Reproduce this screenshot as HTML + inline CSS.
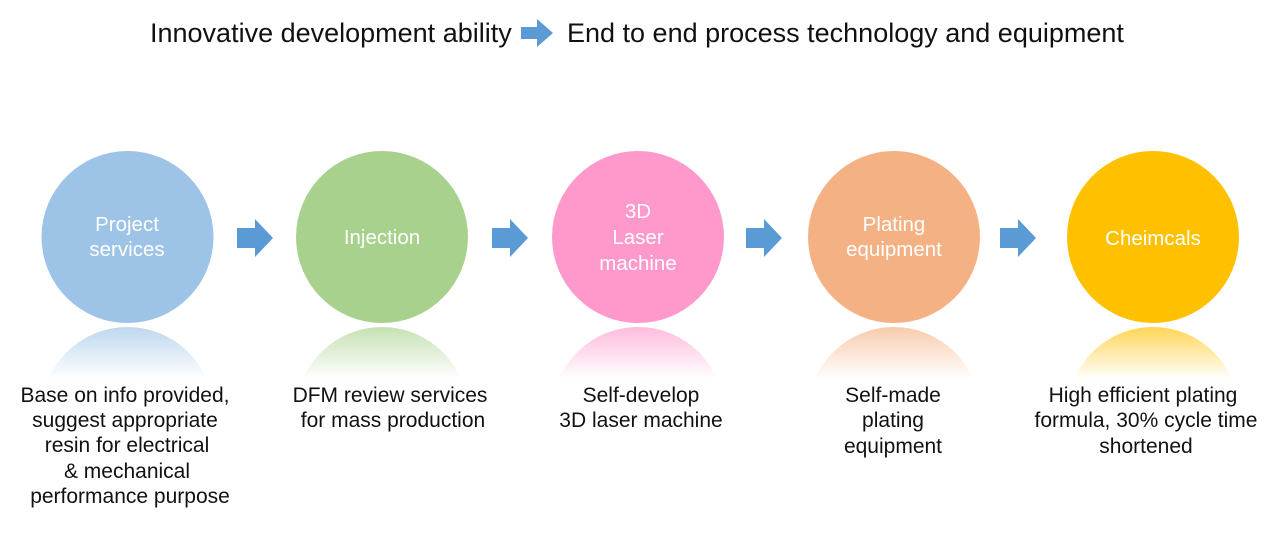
<!DOCTYPE html>
<html><head><meta charset="utf-8"><style>
html,body{margin:0;padding:0;background:#fff;width:1285px;height:538px;overflow:hidden}
svg{display:block}
text{font-family:"Liberation Sans",Arial,sans-serif}
</style></head><body>
<svg width="1285" height="538" viewBox="0 0 1285 538" xmlns="http://www.w3.org/2000/svg">
<defs>
<linearGradient id="fade" x1="0" y1="0" x2="0" y2="1">
<stop offset="0" stop-color="#fff" stop-opacity="0.1"/>
<stop offset="1" stop-color="#fff" stop-opacity="1"/>
</linearGradient>
<clipPath id="rc"><rect x="0" y="326" width="1285" height="52"/></clipPath>
</defs>
<text x="150" y="42" font-size="27" fill="#111">Innovative development ability</text>
<polygon points="521,27 537,27 537,19 553,33 537,47 537,39 521,39" fill="#5b9bd5"/>
<text x="567" y="42" font-size="27" fill="#111">End to end process technology and equipment</text>

<g font-size="20.5" fill="#fff" text-anchor="middle">
<circle cx="127.5" cy="237" r="86" fill="#9dc3e6"/>
<text x="127" y="231">Project</text><text x="127" y="256">services</text>
<circle cx="382" cy="237" r="86" fill="#a9d18e"/>
<text x="382" y="244">Injection</text>
<circle cx="638" cy="237" r="86" fill="#ff99cc"/>
<text x="638" y="218">3D</text><text x="638" y="244">Laser</text><text x="638" y="270">machine</text>
<circle cx="894" cy="237" r="86" fill="#f4b183"/>
<text x="894" y="231">Plating</text><text x="894" y="256">equipment</text>
<circle cx="1153" cy="237" r="86" fill="#ffc000"/>
<text x="1153" y="245">Cheimcals</text>
</g>

<g clip-path="url(#rc)" opacity="0.75">
<circle cx="127.5" cy="413" r="86" fill="#9dc3e6"/>
<circle cx="382" cy="413" r="86" fill="#a9d18e"/>
<circle cx="638" cy="413" r="86" fill="#ff99cc"/>
<circle cx="894" cy="413" r="86" fill="#f4b183"/>
<circle cx="1153" cy="413" r="86" fill="#ffc000"/>
</g>
<rect x="0" y="326" width="1285" height="53" fill="url(#fade)"/>

<g fill="#5b9bd5">
<polygon points="237,228 255,228 255,219 273,238 255,257 255,248 237,248"/>
<polygon points="492,228 510,228 510,219 528,238 510,257 510,248 492,248"/>
<polygon points="746,228 764,228 764,219 782,238 764,257 764,248 746,248"/>
<polygon points="1000,228 1018,228 1018,219 1036,238 1018,257 1018,248 1000,248"/>
</g>

<g font-size="21" fill="#111" text-anchor="middle">
<text x="125" y="402">Base on info provided,</text>
<text x="125" y="427">suggest appropriate</text>
<text x="127" y="452">resin for electrical</text>
<text x="127" y="478">&amp; mechanical</text>
<text x="130" y="503">performance purpose</text>
<text x="390" y="402">DFM review services</text>
<text x="393" y="427">for mass production</text>
<text x="641" y="402">Self-develop</text>
<text x="641" y="427">3D laser machine</text>
<text x="893" y="402">Self-made</text>
<text x="893" y="427">plating</text>
<text x="893" y="453">equipment</text>
<text x="1143" y="402">High efficient plating</text>
<text x="1146" y="427">formula, 30% cycle time</text>
<text x="1146" y="453">shortened</text>
</g>
</svg>
</body></html>
